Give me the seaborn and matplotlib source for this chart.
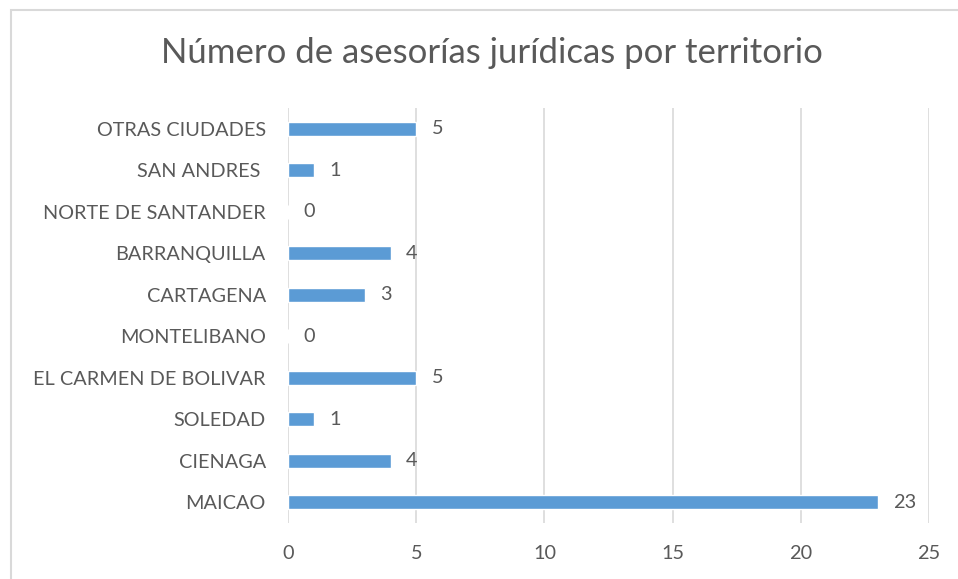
import numpy as np
import pandas as pd
import matplotlib.pyplot as plt
import seaborn as sns
from matplotlib.patches import Rectangle

# Data
territorios = ["OTRAS CIUDADES", "SAN ANDRES ", "NORTE DE SANTANDER", "BARRANQUILLA",
               "CARTAGENA", "MONTELIBANO", "EL CARMEN DE BOLIVAR", "SOLEDAD",
               "CIENAGA", "MAICAO"]
asesorias = [5, 1, 0, 4, 3, 0, 5, 1, 4, 23]
x_ticks = [0, 5, 10, 15, 20, 25]

df = pd.DataFrame({"territorio": territorios, "n": asesorias})

sns.set_style("white")
plt.rcParams['font.family'] = ['Lato', 'DejaVu Sans']
gris = "#595959"
fs = 14.3

fig = plt.figure(figsize=(9.58, 5.79), dpi=100)
ax = fig.add_axes([288/958, 1 - 523/579, (929 - 288)/958, (523 - 108)/579])

sns.barplot(data=df, y="territorio", x="n", color="#5B9BD5", width=0.34,
            saturation=1, ax=ax, orient="h")

# Labels
for i, v in enumerate(asesorias):
    ax.text(v + 0.6, i, str(v), va="center", ha="left", fontsize=fs, color=gris)

ax.set_xlim(0, 25)
ax.set_xticks(x_ticks)
ax.set_ylim(9.5, -0.5)
ax.grid(axis="x", color="#d9d9d9", linewidth=1.2)
ax.set_axisbelow(True)
for s in ax.spines.values():
    s.set_visible(False)
ax.tick_params(axis="both", length=0, labelsize=fs, labelcolor=gris)
ax.tick_params(axis="y", pad=16)
ax.tick_params(axis="x", pad=16)
ax.set_xlabel("")
ax.set_ylabel("")

fig.text(492/958, 1 - 53/579, "Número de asesorías jurídicas por territorio",
         ha="center", va="center", fontsize=25, color=gris)

# chart border
fig.patches.append(Rectangle((11/958, -0.1), 1.2, 1.1 - 10/579,
                             transform=fig.transFigure, fill=False,
                             edgecolor="#d9d9d9", linewidth=1.5))

fig.savefig("out.png", dpi=100)
